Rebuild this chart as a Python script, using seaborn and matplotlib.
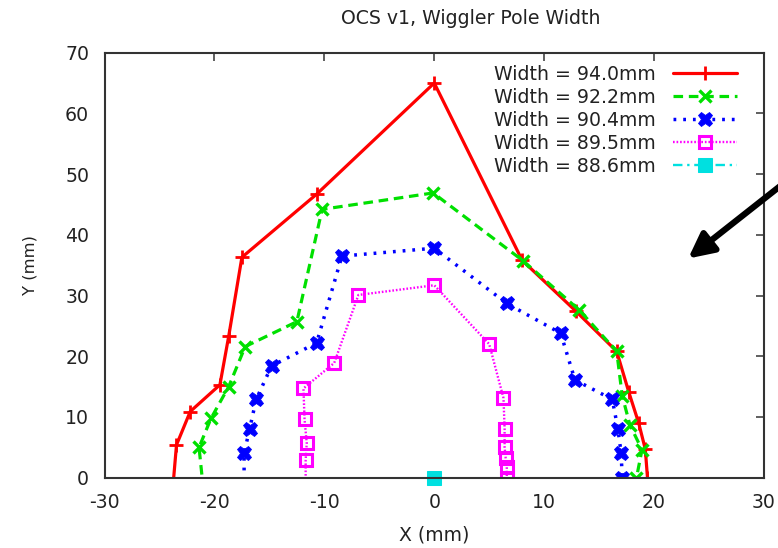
import numpy as np
import pandas as pd
import matplotlib
matplotlib.use("Agg")
import matplotlib.pyplot as plt
import seaborn as sns

# ---- data (mm) ----
labels = ["Width = 94.0mm", "Width = 92.2mm", "Width = 90.4mm", "Width = 89.5mm", "Width = 88.6mm"]

x_940 = [-23.8, -23.45, -22.2, -19.5, -18.7, -17.5, -10.7, 0.0, 8.0, 12.9, 16.6, 17.7, 18.6, 19.2, 19.4]
y_940 = [-2.0, 5.4, 10.9, 15.3, 23.3, 36.3, 46.7, 65.0, 35.8, 27.4, 20.8, 14.1, 9.0, 4.7, 0.0]

x_922 = [-21.0, -21.4, -20.3, -18.7, -17.2, -12.5, -10.2, -0.1, 8.1, 13.2, 16.6, 17.1, 17.8, 18.9, 18.4]
y_922 = [-2.0, 5.0, 9.8, 15.0, 21.6, 25.7, 44.2, 46.9, 35.7, 27.6, 20.8, 13.5, 8.7, 4.6, 0.0]

x_904 = [-17.3, -17.3, -16.8, -16.2, -14.8, -10.7, -8.4, 0.0, 6.6, 11.5, 12.8, 16.2, 16.7, 17.0, 17.1]
y_904 = [-2.0, 4.0, 8.0, 12.9, 18.4, 22.2, 36.5, 37.8, 28.7, 23.8, 16.1, 12.9, 8.1, 4.1, 0.0]

x_895 = [-11.7, -11.7, -11.6, -11.8, -11.9, -9.1, -6.9, 0.0, 5.0, 6.3, 6.4, 6.4, 6.5, 6.6, 6.6]
y_895 = [-2.0, 2.9, 5.7, 9.6, 14.7, 18.9, 30.1, 31.7, 22.0, 13.1, 8.1, 5.0, 3.2, 1.8, 0.0]

x_886 = [0.0]
y_886 = [0.0]

xticks = [-30, -20, -10, 0, 10, 20, 30]
yticks = [0, 10, 20, 30, 40, 50, 60, 70]

sns.set_style("white")
plt.rcParams["font.family"] = ["DejaVu Sans"]
plt.rcParams["axes.unicode_minus"] = False

FS = 13.6
TXT = "#222222"

W, H = 778, 548
fig = plt.figure(figsize=(W / 100, H / 100), dpi=100)
L, R, T, B = 104.5, 764, 52.7, 477.7
ax = fig.add_axes([L / W, 1 - B / H, (R - L) / W, (B - T) / H])

styles = [
    dict(color="#ff0000", linestyle="-", marker="+", markersize=10, markeredgewidth=2.0, linewidth=2.3),
    dict(color="#00e000", linestyle=(0, (3.0, 1.8)), marker="x", markersize=8.5, markeredgewidth=2.4, linewidth=2.3),
    dict(color="#0000ff", linestyle=(0, (0.8, 2.0)), marker="X", markersize=10.5, markeredgewidth=0.6, linewidth=2.5),
    dict(color="#ff00ff", linestyle=(0, (0.7, 0.8)), marker="s", markersize=8, markerfacecolor="none",
         markeredgewidth=2.2, linewidth=1.7),
    dict(color="#00e0e0", linestyle=(0, (4, 2, 1, 2)), marker="s", markersize=9.5, linewidth=1.7),
]

series = [(x_940, y_940), (x_922, y_922), (x_904, y_904), (x_895, y_895), (x_886, y_886)]
for (xs, ys), lab, st in zip(series, labels, styles):
    df = pd.DataFrame({"x": xs, "y": ys})
    sns.lineplot(data=df, x="x", y="y", sort=False, estimator=None, ax=ax, label=lab,
                 markeredgecolor=st["color"], clip_on=(len(xs) > 1), **st)

ax.set_xlim(-30, 30)
ax.set_ylim(0, 70)
ax.set_xticks(xticks)
ax.set_yticks(yticks)
ax.tick_params(direction="in", length=6, width=1.2, colors="#444444", labelcolor=TXT,
               labelsize=FS, top=True, right=True)
ax.tick_params(axis="x", pad=11)
ax.tick_params(axis="y", pad=11)
for sp in ax.spines.values():
    sp.set_visible(True)
    sp.set_color("#333333")
    sp.set_linewidth(1.5)

ax.set_xlabel("X (mm)", fontsize=FS, color=TXT, labelpad=10)
ax.set_ylabel("Y (mm)", fontsize=11.8, color=TXT, labelpad=20)
fig.text(471 / W, 1 - 19 / H, "OCS v1, Wiggler Pole Width", fontsize=FS, color=TXT,
         ha="center", va="center")

leg = ax.legend(loc="upper right", bbox_to_anchor=((737 - L) / (R - L), (B - 65) / (B - T)),
                markerfirst=False, frameon=False, fontsize=FS, handlelength=3.4,
                labelspacing=0.21, borderpad=0, borderaxespad=0, handletextpad=0.9)
for t in leg.get_texts():
    t.set_color(TXT)

# arrow entering from the right
ax.annotate("", xy=(23.1, 36.1), xytext=(32.5, 49.5), xycoords="data", textcoords="data",
            annotation_clip=False,
            arrowprops=dict(arrowstyle="-|>,head_length=1.5,head_width=0.75", color="black", lw=4.5,
                            shrinkA=0, shrinkB=0))

fig.savefig("out.png", dpi=100)
